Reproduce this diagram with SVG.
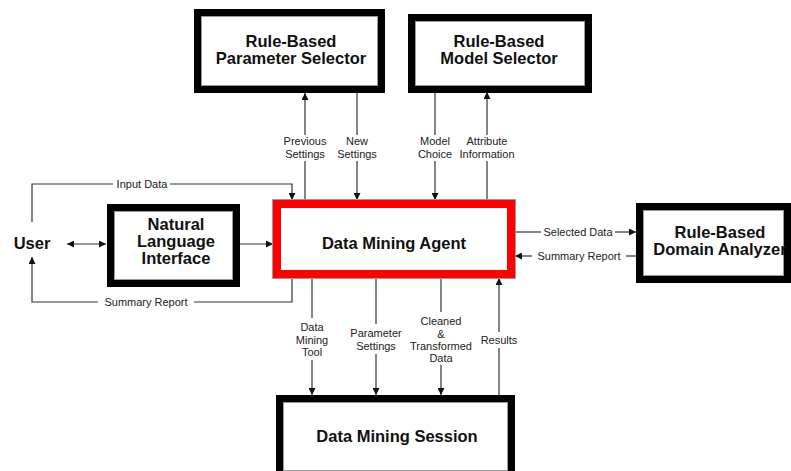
<svg xmlns="http://www.w3.org/2000/svg" width="791" height="471" viewBox="0 0 791 471">
  <style>
    .box { fill: #ffffff; stroke: #000000; stroke-width: 7; }
    .inner { fill: none; stroke: #9a9a9a; stroke-width: 1; }
    .agent { fill: #ffffff; stroke: #ff0000; stroke-width: 8; }
    .title { font-family: "Liberation Sans", Arial, sans-serif; font-weight: bold; font-size: 16.5px; fill: #111111; text-anchor: middle; }
    .lbl { font-family: "Liberation Sans", Arial, sans-serif; font-size: 11px; fill: #222222; text-anchor: middle; }
    .wire { fill: none; stroke: #333333; stroke-width: 1.2; }
  </style>
  <defs>
    <marker id="arrow" viewBox="0 0 10 10" refX="10" refY="5" markerWidth="7" markerHeight="7" markerUnits="userSpaceOnUse" orient="auto-start-reverse">
      <path d="M0,0 L10,5 L0,10 z" fill="#111111"/>
    </marker>
  </defs>
  <rect width="791" height="471" fill="#ffffff"/>

  <!-- connectors -->
  <g id="connectors">
    <!-- Input Data: user up, across, down into agent -->
    <path class="wire" d="M32,222 V184 H113"/>
    <path class="wire" d="M170,184 H292 V200" marker-end="url(#arrow)"/>
    <text class="lbl" x="142" y="188">Input Data</text>

    <!-- Summary Report back to user -->
    <path class="wire" d="M292,278 V302 H194"/>
    <path class="wire" d="M98,302 H32 V257" marker-end="url(#arrow)"/>
    <text class="lbl" x="146" y="306">Summary Report</text>

    <!-- user <-> NLI -->
    <path class="wire" d="M67,244 H106" marker-start="url(#arrow)" marker-end="url(#arrow)"/>
    <!-- NLI -> agent -->
    <path class="wire" d="M240,244 H273" marker-end="url(#arrow)"/>

    <!-- Previous Settings (up) -->
    <path class="wire" d="M305,135 V93" marker-end="url(#arrow)"/>
    <path class="wire" d="M305,161 V200"/>
    <text class="lbl" x="305" y="145">Previous</text>
    <text class="lbl" x="305" y="158">Settings</text>

    <!-- New Settings (down) -->
    <path class="wire" d="M357,93 V135"/>
    <path class="wire" d="M357,161 V200" marker-end="url(#arrow)"/>
    <text class="lbl" x="357" y="145">New</text>
    <text class="lbl" x="357" y="158">Settings</text>

    <!-- Model Choice (down) -->
    <path class="wire" d="M435,92 V135"/>
    <path class="wire" d="M435,161 V200" marker-end="url(#arrow)"/>
    <text class="lbl" x="435" y="145">Model</text>
    <text class="lbl" x="435" y="158">Choice</text>

    <!-- Attribute Information (up) -->
    <path class="wire" d="M487,135 V92" marker-end="url(#arrow)"/>
    <path class="wire" d="M487,161 V200"/>
    <text class="lbl" x="487" y="145">Attribute</text>
    <text class="lbl" x="487" y="158">Information</text>

    <!-- Selected Data (right) -->
    <path class="wire" d="M515,232 H541"/>
    <path class="wire" d="M615,232 H636" marker-end="url(#arrow)"/>
    <text class="lbl" x="578" y="236">Selected Data</text>

    <!-- Summary Report (left) -->
    <path class="wire" d="M636,256 H626"/>
    <path class="wire" d="M532,256 H515" marker-end="url(#arrow)"/>
    <text class="lbl" x="579" y="260">Summary Report</text>

    <!-- Data Mining Tool (down) -->
    <path class="wire" d="M312,278 V318"/>
    <path class="wire" d="M312,360 V395" marker-end="url(#arrow)"/>
    <text class="lbl" x="312" y="331">Data</text>
    <text class="lbl" x="312" y="344">Mining</text>
    <text class="lbl" x="312" y="356">Tool</text>

    <!-- Parameter Settings (down) -->
    <path class="wire" d="M376,278 V324"/>
    <path class="wire" d="M376,354 V395" marker-end="url(#arrow)"/>
    <text class="lbl" x="376" y="337">Parameter</text>
    <text class="lbl" x="376" y="350">Settings</text>

    <!-- Cleaned & Transformed Data (down) -->
    <path class="wire" d="M441,278 V312"/>
    <path class="wire" d="M441,365 V395" marker-end="url(#arrow)"/>
    <text class="lbl" x="441" y="325">Cleaned</text>
    <text class="lbl" x="441" y="338">&amp;</text>
    <text class="lbl" x="441" y="350">Transformed</text>
    <text class="lbl" x="441" y="362">Data</text>

    <!-- Results (up) -->
    <path class="wire" d="M499,395 V348"/>
    <path class="wire" d="M499,332 V278" marker-end="url(#arrow)"/>
    <text class="lbl" x="499" y="344">Results</text>
  </g>

  <!-- nodes -->
  <g id="user">
    <text class="title" x="32" y="249">User</text>
  </g>

  <g id="param-selector">
    <rect class="box" x="197.5" y="12.5" width="184" height="77"/>
    <rect class="inner" x="201.5" y="16.5" width="176" height="69"/>
    <text class="title" x="291" y="47">Rule-Based</text>
    <text class="title" x="291" y="64">Parameter Selector</text>
  </g>

  <g id="model-selector">
    <rect class="box" x="411.5" y="17.5" width="177" height="72"/>
    <rect class="inner" x="415.5" y="21.5" width="169" height="64"/>
    <text class="title" x="499" y="47">Rule-Based</text>
    <text class="title" x="499" y="64">Model Selector</text>
  </g>

  <g id="nli">
    <rect class="box" x="110.5" y="207.5" width="126" height="76"/>
    <rect class="inner" x="114.5" y="211.5" width="118" height="68"/>
    <text class="title" x="176" y="230">Natural</text>
    <text class="title" x="176" y="247">Language</text>
    <text class="title" x="176" y="264">Interface</text>
  </g>

  <g id="agent">
    <rect class="agent" x="277" y="204" width="234" height="70"/>
    <rect class="inner" x="272.5" y="199.5" width="243" height="79"/>
    <text class="title" x="394" y="249">Data Mining Agent</text>
  </g>

  <g id="domain-analyzer">
    <rect class="box" x="639.5" y="206.5" width="148" height="73"/>
    <rect class="inner" x="643.5" y="210.5" width="140" height="65"/>
    <text class="title" x="720" y="238">Rule-Based</text>
    <text class="title" x="720" y="255">Domain Analyzer</text>
  </g>

  <g id="session">
    <rect class="box" x="279.5" y="398.5" width="232" height="76"/>
    <rect class="inner" x="283.5" y="402.5" width="224" height="68"/>
    <text class="title" x="397" y="442">Data Mining Session</text>
  </g>
</svg>
